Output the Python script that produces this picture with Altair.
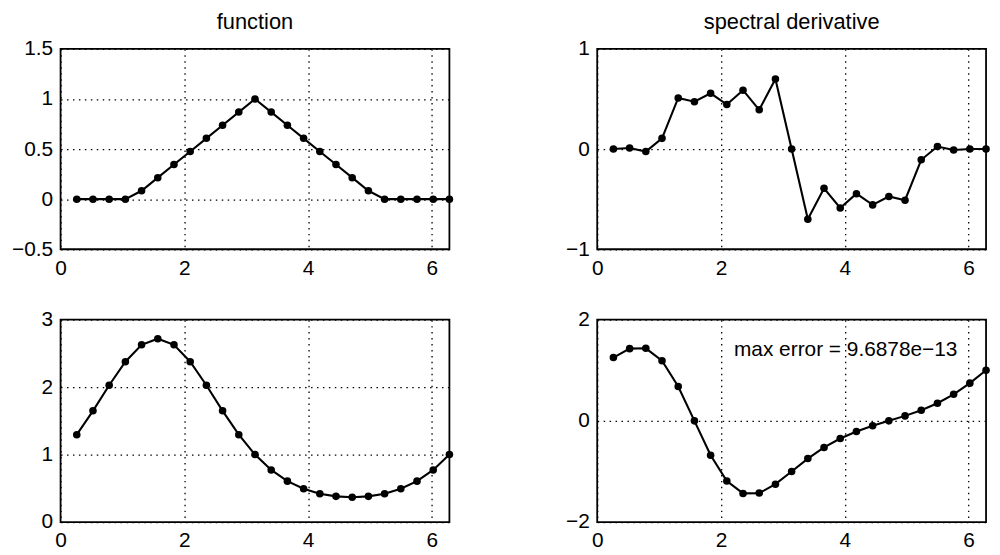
import altair as alt
import pandas as pd

# grid points x_j = j*2*pi/24
x = [0.2618, 0.5236, 0.7854, 1.0472, 1.3090, 1.5708, 1.8326, 2.0944,
     2.3562, 2.6180, 2.8798, 3.1416, 3.4034, 3.6652, 3.9270, 4.1888,
     4.4506, 4.7124, 4.9742, 5.2360, 5.4978, 5.7596, 6.0214, 6.2832]

hat = [0, 0, 0, 0, 0.0837, 0.2146, 0.3455, 0.4764, 0.6073, 0.7382, 0.8691, 1.0,
       0.8691, 0.7382, 0.6073, 0.4764, 0.3455, 0.2146, 0.0837, 0, 0, 0, 0, 0]

hat_deriv = [0, 0.01, -0.025, 0.107, 0.51, 0.473, 0.557, 0.445, 0.588, 0.392, 0.70, 0,
             -0.70, -0.392, -0.588, -0.445, -0.557, -0.473, -0.51, -0.107, 0.025, -0.01, 0, 0]

expsin = [1.2954, 1.6487, 2.0281, 2.3774, 2.6272, 2.7183, 2.6272, 2.3774,
          2.0281, 1.6487, 1.2954, 1.0, 0.7720, 0.6065, 0.4931, 0.4206,
          0.3806, 0.3679, 0.3806, 0.4206, 0.4931, 0.6065, 0.7720, 1.0]

expsin_deriv = [1.2513, 1.4278, 1.4341, 1.1887, 0.6800, 0.0, -0.6800, -1.1887,
                -1.4341, -1.4278, -1.2513, -1.0, -0.7457, -0.5253, -0.3487, -0.2103,
                -0.0985, 0.0, 0.0985, 0.2103, 0.3487, 0.5253, 0.7457, 1.0]

x_ticks = [0, 2, 4, 6]
annotation = ["max error = 9.6878e\u221213"]
annot_x = [2.21]
annot_y = [1.39]

FONT = "Liberation Sans"
W = 392


def panel(yvals, domain, yticks, width, height, title=None, annot=False):
    df = pd.DataFrame({"x": x, "y": yvals})
    base = alt.Chart(df)
    xenc = alt.X("x:Q",
                 scale=alt.Scale(domain=[0, 6.2832], nice=False, zero=False),
                 axis=alt.Axis(values=x_ticks, title=None, format="~g"))
    yenc = alt.Y("y:Q",
                 scale=alt.Scale(domain=domain, nice=False, zero=False),
                 axis=alt.Axis(values=yticks, title=None, format="~g"))
    line = base.mark_line(color="black", strokeWidth=2.1).encode(x=xenc, y=yenc)
    pts = base.mark_circle(color="black", size=58, opacity=1).encode(x="x:Q", y="y:Q")
    layers = [line, pts]
    if annot:
        adf = pd.DataFrame({"x": annot_x, "y": annot_y, "t": annotation})
        txt = alt.Chart(adf).mark_text(align="left", baseline="middle", font=FONT,
                                       fontSize=21, color="black").encode(
            x="x:Q", y="y:Q", text="t:N")
        layers.append(txt)
    ch = alt.layer(*layers).properties(width=width, height=height)
    if title:
        ch = ch.properties(title=alt.TitleParams(title, fontSize=22, font=FONT,
                                                 fontWeight="normal", color="black",
                                                 offset=4))
    return ch


tl = panel(hat, [-0.5, 1.5], [-0.5, 0, 0.5, 1, 1.5], W, 202, title="function")
tr = panel(hat_deriv, [-1, 1], [-1, 0, 1], W, 202, title="spectral derivative")
bl = panel(expsin, [0, 3], [0, 1, 2, 3], W, 204)
br = panel(expsin_deriv, [-2, 2], [-2, 0, 2], W, 204, annot=True)

top = alt.hconcat(tl, tr, spacing=90)
bottom = alt.hconcat(bl, br, spacing=90)

chart = alt.vconcat(top, bottom, spacing=29).properties(
    padding=0
).configure_view(
    stroke="black", strokeWidth=1.8
).configure_axis(
    labelFont=FONT, labelFontSize=21, labelColor="black",
    ticks=False, domain=False, grid=True, gridColor="black",
    gridDash=[1.5, 4.5], gridOpacity=1, gridWidth=1.3,
    labelPadding=8, labelFlush=False, labelOverlap=False
).configure_axisY(
    minExtent=52, maxExtent=52
).configure_axisX(
    minExtent=25, maxExtent=25, labelPadding=8
)

chart.save("out.html", embed_options={"renderer": "svg", "actions": False})
